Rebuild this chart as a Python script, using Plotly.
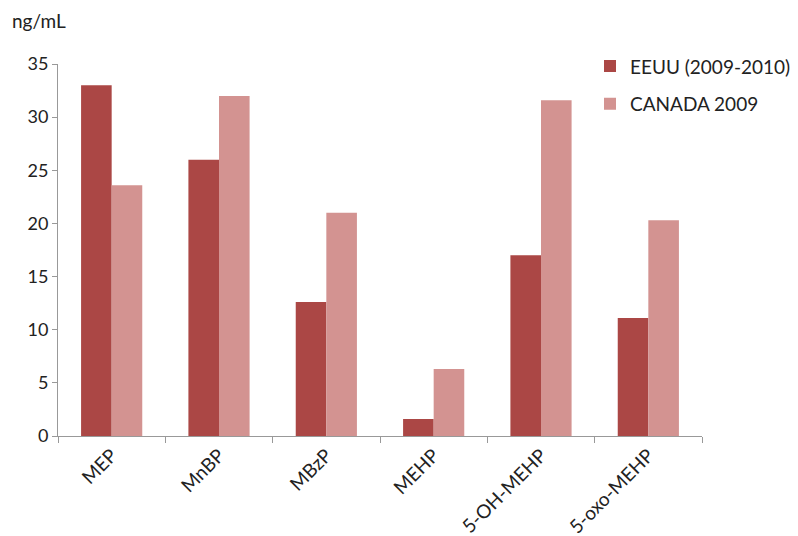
import plotly.graph_objects as go

categories = ["MEP", "MnBP", "MBzP", "MEHP", "5-OH-MEHP", "5-oxo-MEHP"]
eeuu = [33.0, 26.0, 12.6, 1.6, 17.0, 11.1]
canada = [23.6, 32.0, 21.0, 6.3, 31.6, 20.3]
series_names = ["EEUU (2009-2010)", "CANADA 2009"]
y_ticks = [0, 5, 10, 15, 20, 25, 30, 35]

FONT = "Lato, Open Sans, sans-serif"

fig = go.Figure()
fig.add_trace(go.Bar(x=categories, y=eeuu, name=series_names[0], legendgroup="a",
                     marker=dict(color="#AB4745", line=dict(width=0))))
fig.add_trace(go.Bar(x=categories, y=canada, name=series_names[1], legendgroup="b",
                     marker=dict(color="#D39391", line=dict(width=0))))

fig.update_layout(
    width=798, height=536,
    margin=dict(l=58, r=96, t=64, b=100, autoexpand=False),
    paper_bgcolor="white", plot_bgcolor="white",
    barmode="group", bargap=0.43, bargroupgap=0,
    font=dict(family=FONT, size=18, color="#222222"),
    legend=dict(x=(590 - 58) / 644, y=1.045, xanchor="left", yanchor="top",
                bgcolor="rgba(0,0,0,0)", font=dict(size=19, color="#222222"),
                itemwidth=30, tracegroupgap=10),
    showlegend=True,
    annotations=[dict(text="ng/mL", x=-48/644, y=1 + (64 - 20) / 372,
                      xref="paper", yref="paper",
                      showarrow=False, xanchor="left", yanchor="middle",
                      font=dict(size=19, color="#222222"))],
)

fig.update_yaxes(range=[0, 35], tickvals=y_ticks, showgrid=False, zeroline=False,
                 showline=True, linecolor="#999999", linewidth=1,
                 ticks="outside", ticklen=5, tickcolor="#999999",
                 automargin=False,
                 tickfont=dict(size=18, color="#222222"))
fig.update_xaxes(showgrid=False, showline=True, linecolor="#999999", linewidth=1,
                 ticks="outside", ticklen=6, tickcolor="#999999",
                 tickson="boundaries", tickangle=-45, automargin=False,
                 tickfont=dict(size=19, color="#222222"))

fig.write_html("out.html")
